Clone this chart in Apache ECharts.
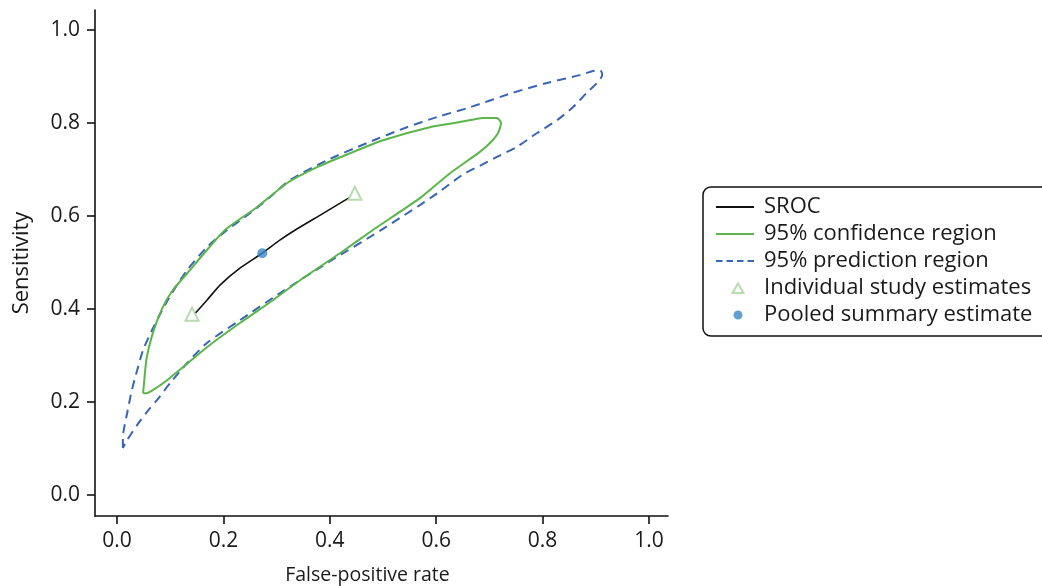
<!DOCTYPE html>
<html>
<head>
<meta charset="utf-8">
<script src="https://cdn.jsdelivr.net/npm/echarts@6/dist/echarts.min.js"></script>
<style>html,body{margin:0;padding:0;background:#fff}#c{width:1042px;height:586px}</style>
</head>
<body>
<div id="c"></div>
<script>
const tickValues = [0, 0.2, 0.4, 0.6, 0.8, 1.0];
const srocCurve = [
  [0.147, 0.391], [0.169, 0.419], [0.194, 0.452], [0.231, 0.488], [0.273, 0.520],
  [0.306, 0.548], [0.338, 0.572], [0.382, 0.602], [0.436, 0.639]
];
const confidenceRegion = [
  [0.049, 0.219], [0.053, 0.269], [0.056, 0.297], [0.068, 0.351], [0.086, 0.404],
  [0.105, 0.441], [0.132, 0.477], [0.169, 0.527], [0.203, 0.570], [0.263, 0.619],
  [0.320, 0.671], [0.376, 0.705], [0.438, 0.735], [0.500, 0.763], [0.588, 0.791],
  [0.645, 0.802], [0.688, 0.811], [0.714, 0.811], [0.722, 0.800], [0.716, 0.778],
  [0.701, 0.757], [0.682, 0.738], [0.626, 0.692], [0.570, 0.639], [0.481, 0.570],
  [0.419, 0.520], [0.344, 0.462], [0.293, 0.419], [0.231, 0.370], [0.169, 0.318],
  [0.124, 0.275], [0.094, 0.247], [0.068, 0.226], [0.056, 0.219], [0.049, 0.219]
];
const predictionRegion = [
  [0.011, 0.101], [0.011, 0.123], [0.019, 0.176], [0.028, 0.226], [0.038, 0.269],
  [0.049, 0.312], [0.066, 0.355], [0.085, 0.398], [0.103, 0.434], [0.132, 0.484],
  [0.169, 0.533], [0.207, 0.570], [0.250, 0.606], [0.288, 0.641], [0.325, 0.677],
  [0.395, 0.720], [0.470, 0.757], [0.545, 0.791], [0.602, 0.813], [0.664, 0.834],
  [0.744, 0.865], [0.808, 0.886], [0.870, 0.903], [0.895, 0.912], [0.908, 0.914],
  [0.912, 0.903], [0.902, 0.886], [0.883, 0.865], [0.857, 0.834], [0.827, 0.806],
  [0.789, 0.778], [0.752, 0.749], [0.714, 0.727], [0.682, 0.708], [0.650, 0.689],
  [0.602, 0.649], [0.570, 0.624], [0.532, 0.596], [0.494, 0.568], [0.395, 0.499],
  [0.306, 0.434], [0.231, 0.376], [0.169, 0.327], [0.132, 0.284], [0.100, 0.241],
  [0.075, 0.204], [0.062, 0.187], [0.038, 0.151], [0.019, 0.118], [0.011, 0.101]
];
const studyEstimates = [[0.141, 0.389], [0.447, 0.649]];
const pooledEstimate = [[0.273, 0.520]];

const FONT = 'Open Sans';
const TXT = '#1a1a1a';
// legend icons: small mark centred in a 38x12 box (corner specks fix the box size)
const BOX = 'M0,0L0.01,0M38,12L38.01,12';
const TRI_ICON = 'path://' + BOX + 'M16.5,11L22,1.5L27.5,11Z';
const DOT_ICON = 'path://' + BOX + 'M22,1.5A4.5,4.5,0,1,1,22,10.5A4.5,4.5,0,1,1,22,1.5Z';
const chart = echarts.init(document.getElementById('c'), null, {renderer: 'canvas'});

function axisCommon(name, gap, nameSize, namePad) {
  return {
    type: 'value',
    name: name,
    nameLocation: 'middle',
    nameGap: gap,
    nameTextStyle: {fontFamily: FONT, fontSize: nameSize, color: TXT, padding: namePad},
    splitLine: {show: false},
    axisLine: {show: true, onZero: false, lineStyle: {color: '#111', width: 1.6}},
    axisTick: {show: true, inside: false, length: 8, lineStyle: {color: '#111', width: 1.6}, customValues: tickValues},
    axisLabel: {show: true, margin: 15, fontFamily: FONT, fontSize: 21, color: TXT,
      customValues: tickValues, formatter: v => v.toFixed(1)}
  };
}

const option = {
  backgroundColor: '#fff',
  animation: false,
  grid: {left: 95, right: 374, top: 10, bottom: 70, containLabel: false, outerBoundsMode: 'none'},
  xAxis: Object.assign(axisCommon('False-positive rate', 49, 19.5, [0, 28, 0, 0]), {min: -0.0414, max: 1.0357}),
  yAxis: Object.assign(axisCommon('Sensitivity', 62, 22, 0), {min: -0.045, max: 1.043}),
  legend: {
    orient: 'vertical',
    left: 703, top: 187,
    borderColor: '#111', borderWidth: 1.5, borderRadius: 8,
    padding: [9, 20, 10, 12],
    itemWidth: 38, itemHeight: 12, itemGap: 5,
    textStyle: {fontFamily: FONT, fontSize: 22, color: TXT, lineHeight: 22, padding: [0, 0, 0, 5]},
    data: [
      {name: 'SROC', itemStyle: {opacity: 0}},
      {name: '95% confidence region', itemStyle: {opacity: 0}},
      {name: '95% prediction region', itemStyle: {opacity: 0}, lineStyle: {type: [6.5, 4]}},
      {name: 'Individual study estimates', icon: TRI_ICON},
      {name: 'Pooled summary estimate', icon: DOT_ICON, itemStyle: {color: '#3d86c8'}}
    ]
  },
  series: [
    {
      name: '95% prediction region', type: 'line', data: predictionRegion,
      showSymbol: false, symbol: 'none', smooth: 0.25,
      lineStyle: {color: '#3a64b4', width: 2, type: [9, 6]}, itemStyle: {color: '#3a64b4'}, z: 2
    },
    {
      name: '95% confidence region', type: 'line', data: confidenceRegion,
      showSymbol: false, symbol: 'none', smooth: 0.2,
      lineStyle: {color: '#5ab54a', width: 2}, itemStyle: {color: '#5ab54a'}, z: 3
    },
    {
      name: 'SROC', type: 'line', data: srocCurve,
      showSymbol: false, symbol: 'none', smooth: 0.2,
      lineStyle: {color: '#111', width: 1.6}, itemStyle: {color: '#111'}, z: 4
    },
    {
      name: 'Individual study estimates', type: 'scatter', data: studyEstimates,
      symbol: 'triangle', symbolSize: 13,
      itemStyle: {color: 'rgba(255,255,255,0)', borderColor: '#a6d39a', borderWidth: 2}, z: 5
    },
    {
      name: 'Pooled summary estimate', type: 'scatter', data: pooledEstimate,
      symbol: 'circle', symbolSize: 10,
      itemStyle: {color: '#3d86c8', borderColor: '#3d86c8', borderWidth: 0}, z: 6
    }
  ]
};
chart.setOption(option);
</script>
</body>
</html>
